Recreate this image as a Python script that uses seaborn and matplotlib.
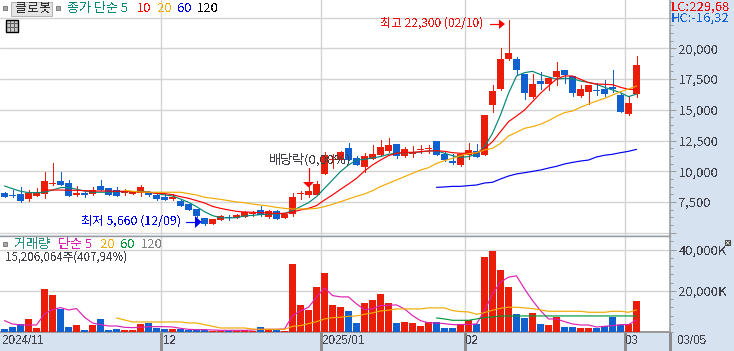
import numpy as np
import pandas as pd
import matplotlib
matplotlib.use("Agg")
import matplotlib.pyplot as plt
from matplotlib.patches import Rectangle, Polygon
import seaborn as sns

# --- price candles (80 trading days) ---
opens = [8260, 8070, 8150, 7770, 8010, 8180, 8960, 9210, 9040, 8090, 8230, 8180, 8800, 8640, 8470, 8260,
         8180, 8260, 8310, 8070, 7930, 7770, 7610, 7330, 6930, 6200, 5710, 6030, 6280, 6200, 6280, 6520,
         6850, 6280, 6770, 6200, 6520, 8150, 8070, 8070, 9780, 10910, 10910, 11890, 11080, 10350, 11000, 11320,
         11650, 12220, 11240, 11400, 11730, 11810, 12460, 11400, 10830, 10510, 11320, 11650, 11320, 15390, 16690, 19130,
         19130, 17910, 16040, 17340, 17100, 17670, 18240, 17750, 16120, 16450, 16610, 16660, 16850, 16200, 14660, 16280]
highs = [8340, 8470, 8720, 8470, 8660, 9940, 10670, 9940, 9290, 8800, 8470, 8720, 9290, 8640, 8720, 8560,
         8420, 8880, 8390, 8260, 8150, 8150, 7740, 7330, 6930, 6200, 6110, 6440, 6440, 6520, 6770, 6770,
         7170, 6850, 6850, 6520, 8230, 8390, 8800, 9210, 11570, 11400, 11650, 12300, 11240, 11480, 12130, 12540,
         12700, 12220, 11970, 12050, 12130, 12130, 12460, 11650, 11400, 11400, 12300, 12220, 14580, 17020, 20030, 22300,
         19300, 17910, 17910, 18070, 17670, 18890, 18240, 17750, 17020, 17020, 17180, 17420, 18240, 16370, 16120, 19380]
lows = [7930, 7930, 7500, 7610, 8010, 7820, 8850, 8880, 8010, 8010, 7930, 8090, 8500, 8090, 8010, 8090,
        8180, 8010, 8010, 7660, 7690, 7690, 7200, 6870, 6300, 5660, 5710, 6030, 6030, 6200, 6280, 6360,
        6360, 6200, 6110, 6200, 6360, 7740, 7900, 8070, 9780, 10260, 10910, 10910, 10510, 9940, 11000, 11240,
        11570, 11080, 11160, 11160, 11480, 11480, 11320, 10830, 10590, 10430, 11000, 11160, 11320, 14820, 16610, 19050,
        17910, 15880, 15960, 16690, 16610, 17020, 17180, 16120, 16040, 15470, 16200, 16120, 16450, 14820, 14580, 16040]
closes = [7930, 8010, 7580, 8200, 8230, 9210, 9040, 8880, 8010, 8260, 8090, 8470, 8500, 8090, 8010, 8340,
          8340, 8720, 8090, 7740, 7690, 7900, 7200, 6870, 6390, 5710, 6110, 6360, 6200, 6440, 6680, 6600,
          6440, 6770, 6110, 6520, 7900, 8230, 8390, 8960, 11320, 11000, 11570, 10910, 10510, 11240, 11400, 11970,
          12130, 11240, 11810, 11480, 11810, 11890, 11320, 10910, 10700, 11400, 11730, 11160, 14580, 16530, 19130, 19620,
          18240, 16370, 17100, 17100, 17590, 18160, 17800, 16370, 16690, 17020, 16530, 16280, 16690, 14820, 15550, 18640]

# --- price moving averages ---
ma5 = [8800, 8580, 8370, 8260, 8260, 8290, 8470, 8660, 8690, 8530, 8390, 8290, 8290, 8290, 8340, 8340,
       8340, 8370, 8310, 8200, 8070, 7990, 7740, 7470, 7120, 6710, 6390, 6220, 6200, 6220, 6360, 6410,
       6470, 6520, 6520, 6570, 6790, 7120, 7440, 7930, 8610, 9290, 9970, 10510, 10910, 10970, 11080, 11190,
       11380, 11460, 11510, 11510, 11570, 11650, 11670, 11460, 11270, 11130, 11190, 11380, 12000, 13080, 14580, 16340,
       17750, 18020, 18130, 17860, 17670, 17500, 17560, 17530, 17340, 17230, 17070, 16830, 16610, 16390, 16070, 16280]
ma10 = [np.nan] * 5 + [8470, 8470, 8470, 8450, 8450, 8420, 8390, 8390, 8390, 8370, 8370,
       8340, 8310, 8290, 8200, 8180, 8090, 7930, 7800, 7610, 7420, 7140, 6980, 6850, 6740, 6680, 6660,
       6630, 6600, 6570, 6570, 6680, 6850, 6980, 7200, 7660, 8070, 8530, 8960, 9420, 10020, 10510, 10910,
       11270, 11460, 11540, 11540, 11590, 11650, 11670, 11620, 11510, 11460, 11460, 11460, 11860, 12400, 13220, 14030,
       14490, 14980, 15660, 16340, 16940, 17500, 17750, 17750, 17480, 17210, 17100, 17070, 17040, 16830, 16660, 16660]
ma20 = [np.nan] * 15 + [8450, 8370, 8310, 8290, 8290, 8290, 8290, 8290, 8180, 8070, 7880, 7800, 7710, 7610, 7500, 7440,
       7330, 7250, 7170, 7060, 6980, 6930, 6930, 6930, 6980, 7120, 7310, 7520, 7740, 7960, 8150, 8420, 8750,
       9020, 9290, 9560, 9830, 10100, 10290, 10640, 10860, 11050, 11270, 11430, 11510, 11730, 11860, 12270, 12870,
       13170, 13490, 13630, 13820, 14110, 14470, 14770, 14900, 15200, 15470, 15710, 15930, 16200, 16470, 16690, 16930]
ma60 = [np.nan] * 54 + [8690, 8720, 8770, 8770, 8830, 8880, 9040, 9100, 9370, 9610, 9780, 9880, 9990, 10100, 10260,
       10400, 10590, 10720, 10830, 10910, 11160, 11300, 11380, 11510, 11620, 11780]

# --- volume (thousand shares) and its moving averages ---
volume = [1630, 2600, 4070, 6500, 2110, 21140, 18210, 11380, 2600, 3580, 1140, 3580, 6500, 1140, 1630, 1140,
          1140, 4070, 4550, 2110, 1630, 1630, 1630, 1140, 1140, 1140, 650, 650, 650, 490, 1140, 650,
          2600, 1140, 1140, 650, 32850, 13330, 10890, 22110, 28460, 13330, 12360, 10410, 4550, 14310, 15770, 18700,
          14310, 4550, 5040, 4550, 3090, 5040, 5040, 2110, 2110, 4070, 6020, 4070, 36260, 39190, 29920, 22110,
          8940, 6990, 9430, 4070, 3580, 7480, 2600, 2600, 2110, 2110, 2110, 3090, 7480, 3580, 4070, 15206]
vol_ma5 = [5530, 3900, 3410, 3410, 3410, 8780, 10890, 11870, 10730, 11380, 7150, 4390, 3580, 2930, 2930, 2280,
           2110, 2280, 2600, 2600, 2600, 2440, 1790, 1300, 1140, 1140, 980, 810, 810, 810, 810, 980,
           1300, 1300, 1300, 1460, 7970, 10240, 12030, 16910, 21460, 17720, 17070, 17070, 13660, 10890, 11220, 12850,
           13010, 13170, 11220, 7970, 5530, 4390, 4390, 4070, 3580, 3580, 3740, 3900, 10410, 18540, 24230, 26670,
           27320, 20980, 15280, 10410, 6340, 6340, 5040, 3900, 3410, 3410, 2440, 2760, 3090, 3580, 3580, 5850]
vol_ma20 = [np.nan] * 14 + [6830, 5850, 4880, 4880, 4880, 4880, 4880, 4880, 4880, 4390, 4390, 3580, 2760, 1950, 1950, 1950,
            1950, 1460, 1300, 1300, 1300, 1300, 2760, 3090, 4070, 5040, 6340, 6990, 7150, 7640, 7800, 8620,
            9270, 10240, 10570, 11220, 11220, 11220, 11220, 11710, 11710, 11710, 10410, 9920, 9760, 8620, 9430, 10570,
            11540, 12030, 12030, 11710, 11380, 10730, 10080, 10080, 10080, 10080, 10080, 9590, 9590, 9590, 10080, 10080, 9590, 10730]
vol_ma60 = [np.nan] * 54 + [6830, 6340, 5690, 5690, 5690, 6340, 6990, 7320] + [7800] * 18

month_lines = [19.5, 39.5, 57.5, 77.5]
price_labels = [7500, 10000, 12500, 15000, 17500, 20000]
vol_labels = [20000, 40000]

RED = "#EA1C0A"
BLUE = "#1060CF"
GRID = "#D4D4D4"
AXIS = "#9A9A9A"
STRIP = "#D6E2F0"
INK = "#404048"

sns.set_style("white")
plt.rcParams["font.family"] = ["Liberation Sans Narrow", "Noto Sans CJK KR", "DejaVu Sans"]
plt.rcParams["text.antialiased"] = False

W, H = 734, 351
fig = plt.figure(figsize=(W / 100, H / 100), dpi=100, facecolor=STRIP)
px = 0.72  # one pixel in points
thin = 0.85


def panel(top, bottom):
    return fig.add_axes([0, 1 - bottom / H, 669.5 / W, (bottom - top) / H])


ax_p = panel(0, 235)
ax_v = panel(235.5, 332)

df = pd.DataFrame({"i": np.arange(80), "open": opens, "high": highs, "low": lows, "close": closes,
                   "vol": volume, "ma5": ma5, "ma10": ma10, "ma20": ma20, "ma60": ma60,
                   "vma5": vol_ma5, "vma20": vol_ma20, "vma60": vol_ma60})
df["dir"] = np.where(df["close"] > df["open"], "up", "down")
df["col"] = df["dir"].map({"up": RED, "down": BLUE})
df["body_lo"] = df[["open", "close"]].min(axis=1)
df["body_hi"] = df[["open", "close"]].max(axis=1)

# candles
ax_p.vlines(df["i"], df["low"], df["high"], colors=df["col"], linewidth=px, antialiased=False, zorder=3)
ax_p.bar(df["i"], df["body_hi"] - df["body_lo"], bottom=df["body_lo"], width=0.875, color=df["col"],
         linewidth=0, antialiased=False, zorder=4)

# price moving averages
for col, c in [("ma5", "#008878"), ("ma10", "#FF0000"), ("ma20", "#F0AA00"), ("ma60", "#0000F0")]:
    sns.lineplot(data=df, x="i", y=col, color=c, errorbar=None, ax=ax_p, zorder=5)

# volume
sns.barplot(data=df, x="i", y="vol", hue="dir", palette={"up": RED, "down": BLUE}, dodge=False, width=0.875,
            native_scale=True, legend=False, saturation=1, linewidth=0, errorbar=None, ax=ax_v,
            antialiased=False, zorder=3)
for col, c in [("vma5", "#DC20B4"), ("vma20", "#F0AA00"), ("vma60", "#009A3C")]:
    sns.lineplot(data=df, x="i", y=col, color=c, errorbar=None, ax=ax_v, zorder=5)

# seaborn leaves its default width on the lines, so thin them here
for ax in (ax_p, ax_v):
    for line in ax.get_lines():
        line.set_linewidth(thin)

# axes set-up
for ax in (ax_p, ax_v):
    ax.set_facecolor("white")
    ax.set_xlim(-0.5625, 83.125)
    ax.set_xlabel("")
    ax.set_ylabel("")
    ax.set_xticks(month_lines)
    ax.set_xticklabels([])
    ax.tick_params(axis="x", length=0)
    ax.yaxis.tick_right()
    ax.grid(True, color=GRID, linewidth=1.4 * px, zorder=1)
    ax.set_axisbelow(True)
    for s in ("left", "top", "bottom"):
        ax.spines[s].set_visible(False)
    ax.spines["right"].set_color(AXIS)
    ax.spines["right"].set_linewidth(1.6 * px)

ax_p.set_ylim(4812, 23932)
ax_p.set_yticks([5000] + price_labels + [22500])
ax_p.set_yticklabels([""] + [f"{v:,}" for v in price_labels] + [""])
ax_p.set_yticks(np.arange(5000, 23900, 625), minor=True)

ax_v.set_ylim(0, 46917)
ax_v.set_yticks(vol_labels)
ax_v.set_yticklabels([f"{v:,}K" for v in vol_labels])
ax_v.set_yticks(np.arange(0, 46000, 4000), minor=True)
ax_v.spines["top"].set_visible(True)
ax_v.spines["top"].set_color(AXIS)
ax_v.spines["top"].set_linewidth(1.4 * px)
ax_v.spines["bottom"].set_visible(True)
ax_v.spines["bottom"].set_color(AXIS)
ax_v.spines["bottom"].set_linewidth(2 * px)

for ax in (ax_p, ax_v):
    ax.tick_params(axis="y", which="major", length=6 * px, width=px, color=AXIS, pad=3 * px, labelsize=9.4,
                   labelcolor=INK)
    ax.tick_params(axis="y", which="minor", length=3 * px, width=px, color=AXIS)

# overlay in pixel coordinates for header texts and arrows
ov = fig.add_axes([0, 0, 1, 1], zorder=10)
ov.set_xlim(0, W)
ov.set_ylim(H, 0)
ov.axis("off")


def label(x, y, s, c=INK, size=9.4, **kw):
    ov.text(x, y, s, color=c, fontsize=size, va="center", ha="left", **kw)


def square(x, y, s=4):
    ov.add_patch(Rectangle((x, y), s, s, facecolor="#A8A8A8", edgecolor="#808080", linewidth=px))


# price header
square(3, 5.5)
ov.add_patch(Rectangle((10.5, 1.5), 41, 14, facecolor="#E4E4E4", edgecolor="#B4B4B4", linewidth=px))
label(15, 8.5, "클로봇", "#303030")
square(55.5, 5.5)
label(67, 8.5, "종가 단순 5", "#008878")
label(137, 8.5, "10", "#FF0000")
label(157, 8.5, "20", "#F0AA00")
label(177, 8.5, "60", "#0000F0")
label(197, 8.5, "120", "#000000")
ov.add_patch(Rectangle((5.5, 19.5), 12.5, 12.5, facecolor="#C8C8C8", edgecolor="#000000", linewidth=1.4 * px))
for v in (9.5, 13.5):
    ov.plot([v, v], [21, 31], color="#606060", lw=px, antialiased=False)
for v in (23, 27):
    ov.plot([7, 17], [v, v], color="#606060", lw=px, antialiased=False)

# right-hand readouts
label(671, 7, "LC:229,68", "#F01010")
label(671, 18.5, "HC:-16,32", "#1060D8")

# annotations
label(380, 23, "최고 22,300 (02/10)", "#F01010", 8.6)
ov.plot([490, 500], [24, 24], color="#FF0000", lw=1.2 * px)
ov.add_patch(Polygon([[499, 19.5], [505, 24], [499, 29]], color="#FF0000", linewidth=0))
label(81, 221, "최저 5,660 (12/09)", "#0000F0", 8.9)
ov.plot([186, 196], [222, 222], color="#0000F0", lw=1.2 * px)
ov.add_patch(Polygon([[195, 216], [201.5, 222], [195, 228]], color="#0000F0", linewidth=0))
label(269, 160, "배당락(0,00%)", INK)
ov.plot([308.5, 308.5], [168, 182], color="#FF0000", lw=1.2 * px)
ov.add_patch(Polygon([[303, 182], [314, 182], [308.5, 187.5]], color="#FF0000", linewidth=0))

# volume header
square(3, 242)
label(14, 244.5, "거래량", "#2A9080")
label(58, 244.5, "단순 5", "#DC20B4")
label(100, 244.5, "20", "#F0AA00")
label(120, 244.5, "60", "#009A3C")
label(141, 244.5, "120", "#808080")
label(5, 257.5, "15,206,064주(407,94%)", INK, 8.3)
ov.add_patch(Rectangle((724.5, 239.5), 6.5, 6.5, facecolor="#444444", edgecolor="none"))
ov.plot([726, 729.5], [241, 244.5], color="white", lw=px * 0.8)
ov.plot([726, 729.5], [244.5, 241], color="white", lw=px * 0.8)

# date strip
for x in (160.5, 320.5, 464.5, 624.5, 669.5):
    ov.plot([x, x], [333, H], color="#8C8C8C", lw=1.4 * px, antialiased=False)
for x, s in [(2, "2024/11"), (163, "12"), (322, "2025/01"), (466, "02"), (626, "03"), (678, "03/05")]:
    label(x, 341.5, s, INK, 8.4, family="Liberation Sans")

fig.savefig("out.png", dpi=100, facecolor=STRIP)
